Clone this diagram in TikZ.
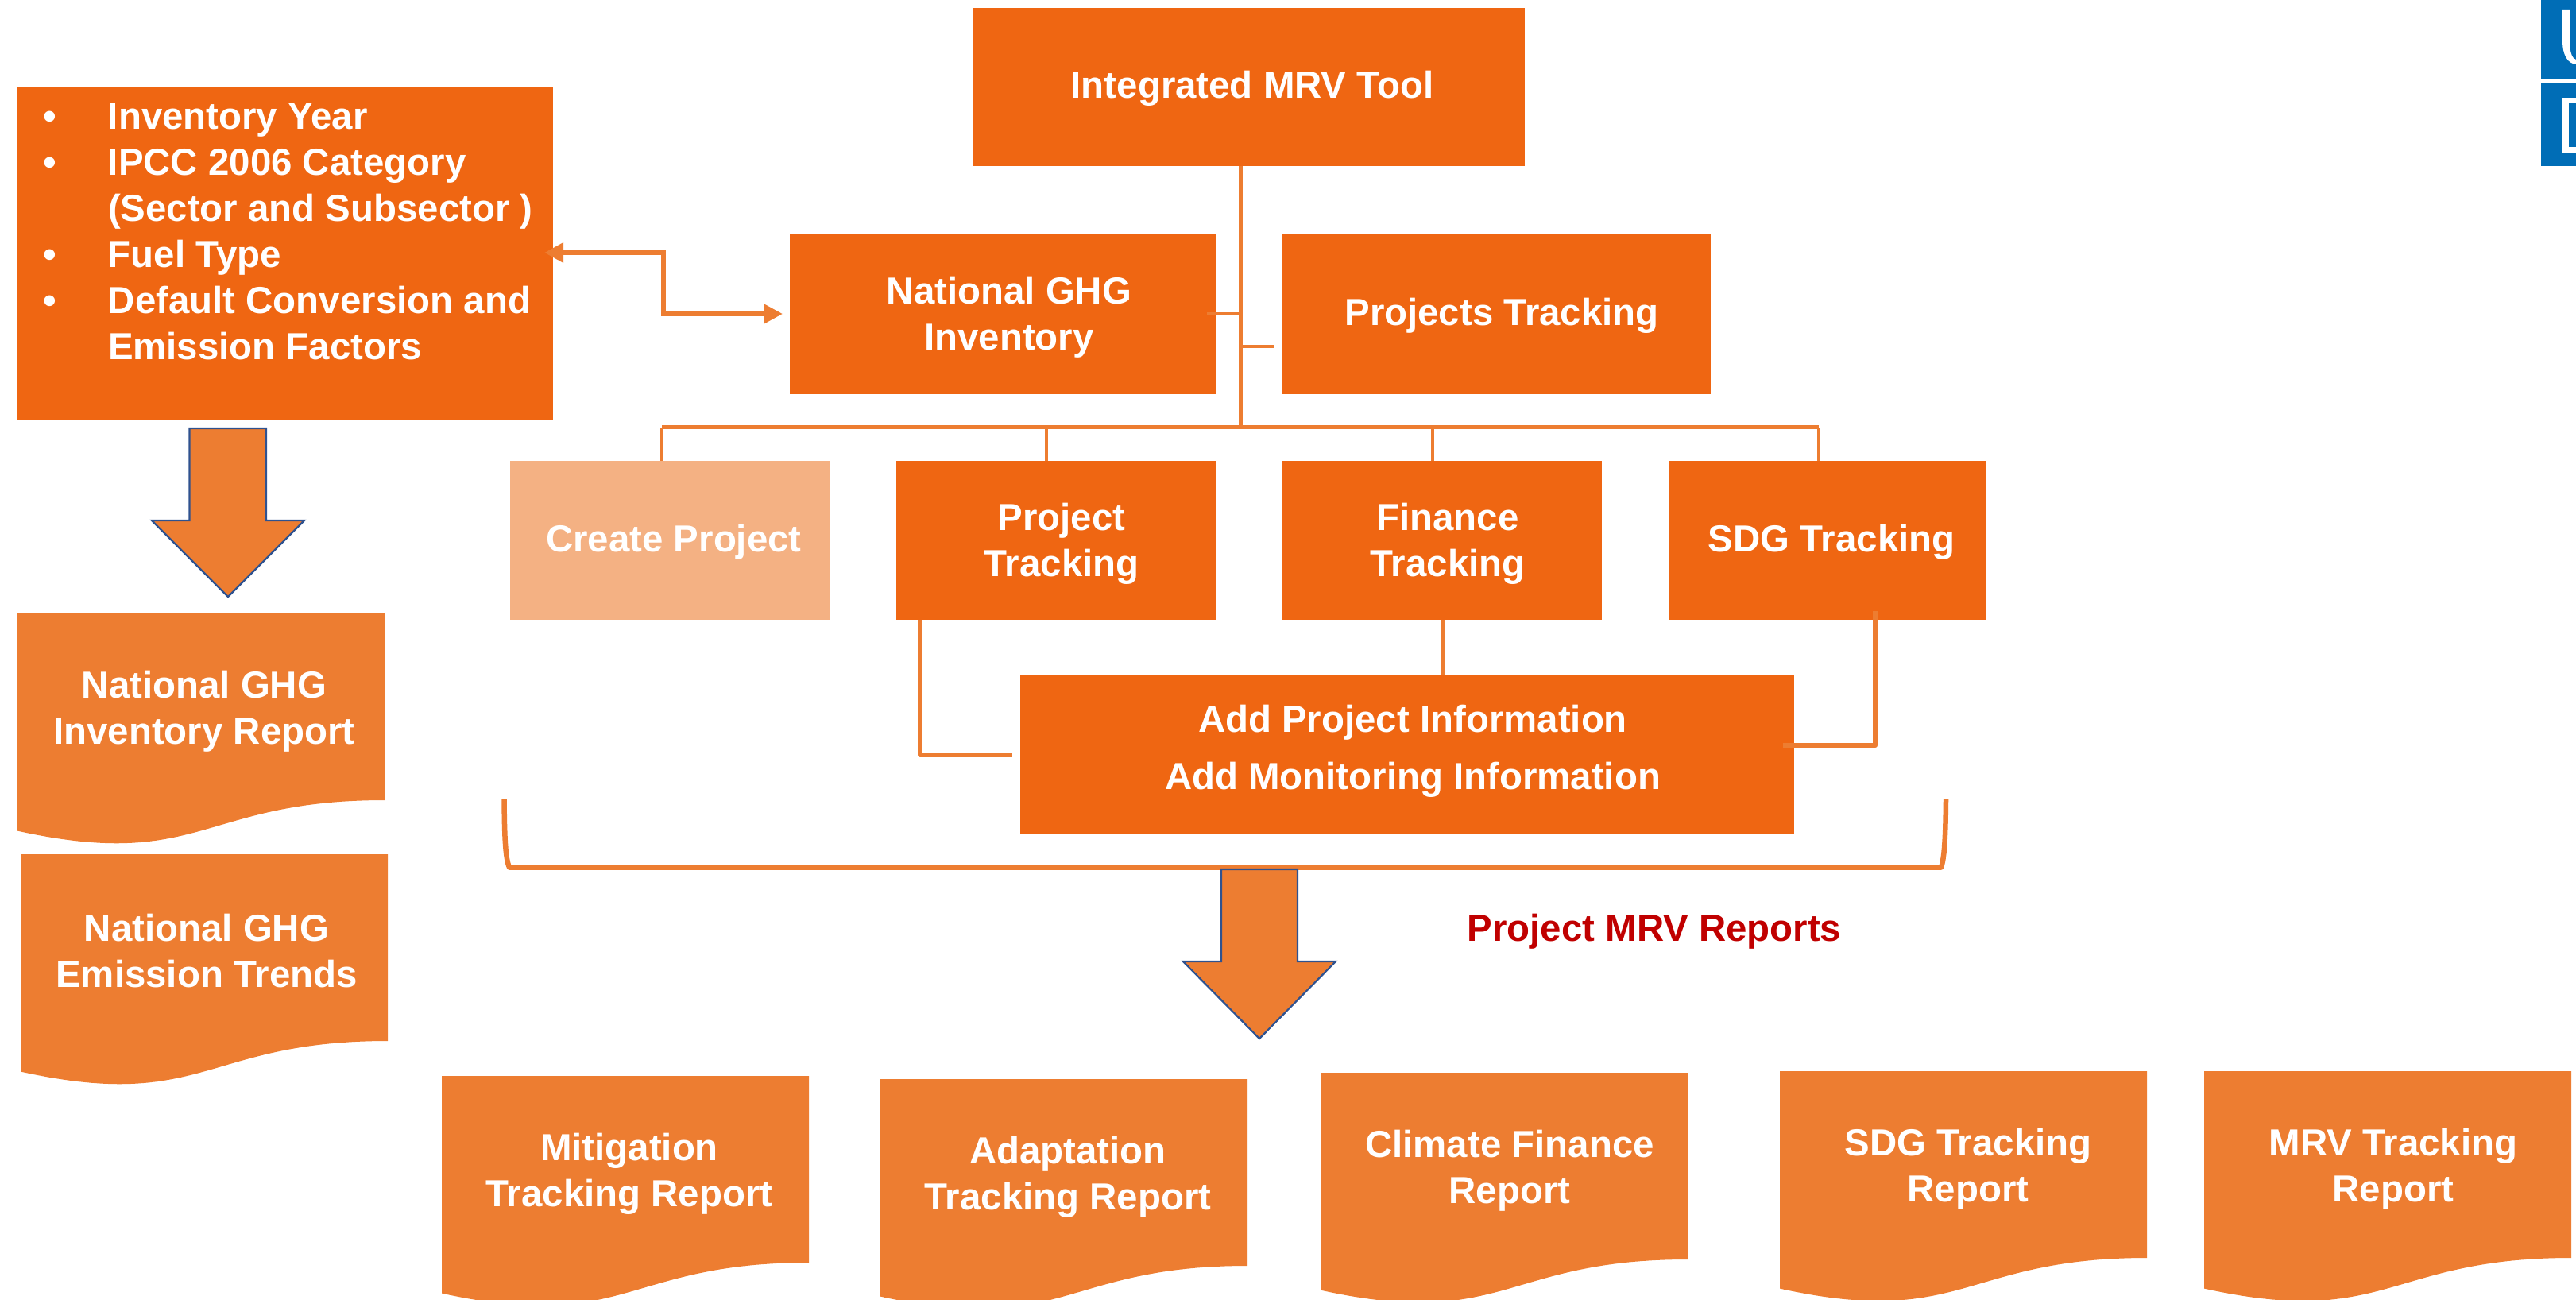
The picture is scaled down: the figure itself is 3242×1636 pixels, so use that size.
\documentclass[tikz,border=0pt]{standalone}
\usepackage{fontspec}
\setmainfont{Liberation Sans}
\usetikzlibrary{arrows.meta}
\definecolor{boxorange}{HTML}{EF6612}
\definecolor{docorange}{HTML}{ED7D31}
\definecolor{paleorange}{HTML}{F4B183}
\definecolor{arrowedge}{HTML}{2F528F}
\definecolor{logoblue}{HTML}{006DB6}
\definecolor{reportred}{HTML}{C00000}
\tikzset{
  px/.style={x=0.5pt,y=-0.5pt},
  boxshape/.style={inner sep=0pt,outer sep=0pt,fill=boxorange},
  paleshape/.style={boxshape,fill=paleorange},
  labeltext/.style={inner sep=0pt,outer sep=0pt,text=white,align=center,
    font=\fontsize{23.7}{29}\selectfont\bfseries},
  listtext/.style={labeltext,align=left},
  redtext/.style={labeltext,text=reportred},
  treeline/.style={draw=docorange,line width=2.3pt},
  heavyline/.style={draw=docorange,line width=3.25pt},
  doublearrow/.style={heavyline,{Triangle[length=12pt,width=12pt]}-{Triangle[length=12pt,width=12pt]}},
  bigarrow/.style={draw=arrowedge,line width=1.1pt,fill=docorange,line join=miter},
  docshape/.style={fill=docorange}
}
% name, x1, y1, x2, y2, style
\newcommand{\rectbox}[6]{\node[#6,minimum width={(#4-#2)*0.5pt},minimum height={(#5-#3)*0.5pt}] (#1) at ({(#2+#4)/2},{(#3+#5)/2}) {};}
% x1, top
\newcommand{\docpath}[2]{\path[docshape] (#1,#2) -- ({#1+462},#2) -- ({#1+462},{#2+235}) .. controls ({#1+231},{#2+235}) and ({#1+231},{#2+324.5}) .. (#1,{#2+273.6}) -- cycle;}
\begin{document}
\begin{tikzpicture}[px]
\useasboundingbox (0,0) rectangle (3242,1636);
% logo
\path[fill=logoblue] (3198,0) rectangle (3242,99);
\path[fill=logoblue] (3198,105) rectangle (3242,209);
\path[fill=white] (3225,12) -- (3234,12) -- (3234,52) .. controls (3234,68) and (3238,74) .. (3242,75) -- (3242,81) .. controls (3232,80) and (3225,70) .. (3225,52) -- cycle;
\path[fill=white] (3224,123) rectangle (3242,192);
\path[fill=logoblue] (3233,129) rectangle (3242,185);
% connectors under the boxes
\coordinate (bus) at (1561.5,537.5);
\coordinate (b1) at (833,537.5);
\coordinate (b2) at (1317,537.5);
\coordinate (b3) at (1803,537.5);
\coordinate (b4) at (2289,537.5);
\coordinate (stubnat) at (1561.5,395);
\coordinate (stubnatend) at (1519,395);
\coordinate (stubproj) at (1561.5,436);
\coordinate (stubprojend) at (1604,436);
% boxes
\rectbox{tool}{1224}{10}{1919}{209}{boxshape}
\rectbox{params}{22}{110}{696}{528}{boxshape}
\rectbox{national}{994}{294}{1530}{496}{boxshape}
\rectbox{projects}{1614}{294}{2153}{496}{boxshape}
\rectbox{create}{642}{580}{1044}{780}{paleshape}
\rectbox{project}{1128}{580}{1530}{780}{boxshape}
\rectbox{finance}{1614}{580}{2016}{780}{boxshape}
\rectbox{sdg}{2100}{580}{2500}{780}{boxshape}
\rectbox{addinfo}{1284}{850}{2258}{1050}{boxshape}
% tree
\draw[treeline] (tool.south -| bus) -- (bus);
\draw[treeline] (b1) -- (b4);
\draw[treeline] (b1) -- (b1 |- create.north);
\draw[treeline] (b2) -- (b2 |- project.north);
\draw[treeline] (b3) -- (b3 |- finance.north);
\draw[treeline] (b4) -- (b4 |- sdg.north);
\draw[treeline] (stubnatend) -- (stubnat);
\draw[treeline] (stubproj) -- (stubprojend);
% links to the add-information box
\coordinate (addleft) at (1274,950);
\coordinate (addright) at (2244,938);
\coordinate (sdgdrop) at (2360,769);
\coordinate (projdrop) at (1158,780);
\coordinate (findrop) at (1816,780);
\draw[heavyline,line join=round] (projdrop) -- (projdrop |- addleft) -- (addleft);
\draw[heavyline] (findrop) -- (findrop |- addinfo.north);
\draw[heavyline,line join=round] (sdgdrop) -- (sdgdrop |- addright) -- (addright);
% bracket
\coordinate (brl) at (634.5,1006);
\coordinate (brr) at (2449,1006);
\draw[heavyline,line join=round] (brl) .. controls (635,1055) and (636,1080) .. (641,1091.5) -- (2443,1091.5) .. controls (2447,1080) and (2448.5,1055) .. (brr);
% double arrow
\coordinate (dal) at (685,318);
\coordinate (dar) at (985,395);
\draw[doublearrow] (dal) -- (835,318) -- (835,395) -- (dar);
% big arrows
\draw[bigarrow] (238.5,539) -- (335,539) -- (335,655) -- (383,655) -- (287,751) -- (191,655) -- (238.5,655) -- cycle;
\draw[bigarrow] (1537,1094) -- (1633,1094) -- (1633,1210) -- (1681,1210) -- (1585,1307) -- (1489,1210) -- (1537,1210) -- cycle;
% documents
\docpath{22}{772}
\docpath{26}{1075}
\docpath{556}{1354}
\docpath{1108}{1358}
\docpath{1662}{1350}
\docpath{2240}{1348}
\docpath{2774}{1348}
% texts
\node[labeltext] (ttool) at (1576,111) {Integrated MRV Tool};
\node[listtext,anchor=north west] (tparams) at (136,130) {%
\llap{\makebox[41pt][l]{•}}Inventory Year\\
\llap{\makebox[41pt][l]{•}}IPCC 2006 Category\\
(Sector and Subsector )\\
\llap{\makebox[41pt][l]{•}}Fuel Type\\
\llap{\makebox[41pt][l]{•}}Default Conversion and\\
Emission Factors};
\node[labeltext] (tnational) at (1270,399) {National GHG\\Inventory};
\node[labeltext] (tprojects) at (1890,397) {Projects Tracking};
\node[labeltext] (tcreate) at (848,682) {Create Project};
\node[labeltext] (tproject) at (1336,684) {Project\\Tracking};
\node[labeltext] (tfinance) at (1822,684) {Finance\\Tracking};
\node[labeltext] (tsdg) at (2305,682) {SDG Tracking};
\node[labeltext] (taddinfo) at (1778,945) {Add Project Information\\[7pt]Add Monitoring Information};
\node[redtext] (treports) at (2082,1172) {Project MRV Reports};
\node[labeltext] (tinv) at (257,895) {National GHG\\Inventory Report};
\node[labeltext] (ttrend) at (260,1197) {National GHG\\Emission Trends};
\node[labeltext] (tmit) at (792,1477) {Mitigation\\Tracking Report};
\node[labeltext] (tada) at (1344,1481) {Adaptation\\Tracking Report};
\node[labeltext] (tclim) at (1900,1473) {Climate Finance\\Report};
\node[labeltext] (tsdgr) at (2477,1471) {SDG Tracking\\Report};
\node[labeltext] (tmrv) at (3012,1471) {MRV Tracking\\Report};
\end{tikzpicture}
\end{document}
